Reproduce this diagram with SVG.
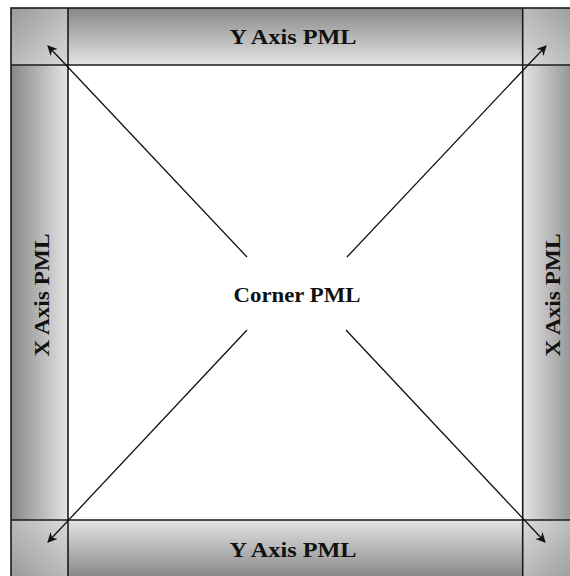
<svg xmlns="http://www.w3.org/2000/svg" width="570" height="576" viewBox="0 0 570 576">
  <style>
    .edge { fill: none; stroke: #1a1a1a; stroke-width: 1.6; }
    .label { font-family: "Liberation Serif", "DejaVu Serif", serif; font-weight: bold; font-size: 22px; fill: #111; text-anchor: middle; }
    .link { stroke: #111; stroke-width: 1.3; fill: none; marker-end: url(#tip); }
  </style>
  <defs>
    <linearGradient id="gTop" x1="0" y1="0" x2="0" y2="1">
      <stop offset="0" stop-color="#888888"/>
      <stop offset="1" stop-color="#e4e4e4"/>
    </linearGradient>
    <linearGradient id="gBottom" x1="0" y1="1" x2="0" y2="0">
      <stop offset="0" stop-color="#888888"/>
      <stop offset="1" stop-color="#e4e4e4"/>
    </linearGradient>
    <linearGradient id="gLeft" x1="0" y1="0" x2="1" y2="0">
      <stop offset="0" stop-color="#888888"/>
      <stop offset="1" stop-color="#e4e4e4"/>
    </linearGradient>
    <linearGradient id="gRight" x1="1" y1="0" x2="0" y2="0">
      <stop offset="0" stop-color="#888888"/>
      <stop offset="1" stop-color="#e4e4e4"/>
    </linearGradient>
    <linearGradient id="gTL" x1="0" y1="0" x2="1" y2="1">
      <stop offset="0" stop-color="#999999"/>
      <stop offset="1" stop-color="#dadada"/>
    </linearGradient>
    <linearGradient id="gTR" x1="1" y1="0" x2="0" y2="1">
      <stop offset="0" stop-color="#999999"/>
      <stop offset="1" stop-color="#dadada"/>
    </linearGradient>
    <linearGradient id="gBL" x1="0" y1="1" x2="1" y2="0">
      <stop offset="0" stop-color="#999999"/>
      <stop offset="1" stop-color="#dadada"/>
    </linearGradient>
    <linearGradient id="gBR" x1="1" y1="1" x2="0" y2="0">
      <stop offset="0" stop-color="#999999"/>
      <stop offset="1" stop-color="#dadada"/>
    </linearGradient>
    <marker id="tip" viewBox="0 0 10 10" refX="9" refY="5" markerWidth="10" markerHeight="10" markerUnits="userSpaceOnUse" orient="auto">
      <path d="M0,0 L10,5 L0,10 L3,5 Z" fill="#111"/>
    </marker>
  </defs>

  <!-- white interior -->
  <rect x="0" y="0" width="570" height="576" fill="#ffffff"/>

  <!-- absorbing layer bands -->
  <g id="pml-top">
    <rect x="68" y="8" width="454.7" height="57" fill="url(#gTop)"/>
    <text class="label" x="293" y="44" textLength="127" lengthAdjust="spacingAndGlyphs">Y Axis PML</text>
  </g>
  <g id="pml-bottom">
    <rect x="68" y="520" width="454.7" height="57" fill="url(#gBottom)"/>
    <text class="label" x="293" y="557" textLength="127" lengthAdjust="spacingAndGlyphs">Y Axis PML</text>
  </g>
  <g id="pml-left">
    <rect x="11" y="65" width="57" height="455" fill="url(#gLeft)"/>
    <text class="label" transform="translate(49,295) rotate(-90)" textLength="123" lengthAdjust="spacingAndGlyphs">X Axis PML</text>
  </g>
  <g id="pml-right">
    <rect x="522.7" y="65" width="57" height="455" fill="url(#gRight)"/>
    <text class="label" transform="translate(560,295) rotate(-90)" textLength="123" lengthAdjust="spacingAndGlyphs">X Axis PML</text>
  </g>
  <g id="pml-corners">
    <rect x="11" y="8" width="57" height="57" fill="url(#gTL)"/>
    <rect x="522.7" y="8" width="57" height="57" fill="url(#gTR)"/>
    <rect x="11" y="520" width="57" height="57" fill="url(#gBL)"/>
    <rect x="522.7" y="520" width="57" height="57" fill="url(#gBR)"/>
  </g>

  <!-- frame and band boundaries -->
  <g id="frame">
    <rect class="edge" x="11" y="8" width="568.7" height="569"/>
    <line class="edge" x1="68" y1="8" x2="68" y2="577"/>
    <line class="edge" x1="522.7" y1="8" x2="522.7" y2="577"/>
    <line class="edge" x1="11" y1="65" x2="580" y2="65"/>
    <line class="edge" x1="11" y1="520" x2="580" y2="520"/>
  </g>

  <g id="corner-pml">
    <text class="label" x="297" y="302" textLength="127" lengthAdjust="spacingAndGlyphs">Corner PML</text>
  </g>

  <!-- connectors -->
  <g id="connectors">
    <line class="link" x1="247" y1="257" x2="48" y2="46"/>
    <line class="link" x1="347" y1="257" x2="546" y2="46"/>
    <line class="link" x1="247" y1="330" x2="48" y2="542"/>
    <line class="link" x1="346" y1="330" x2="545" y2="542"/>
  </g>
</svg>
